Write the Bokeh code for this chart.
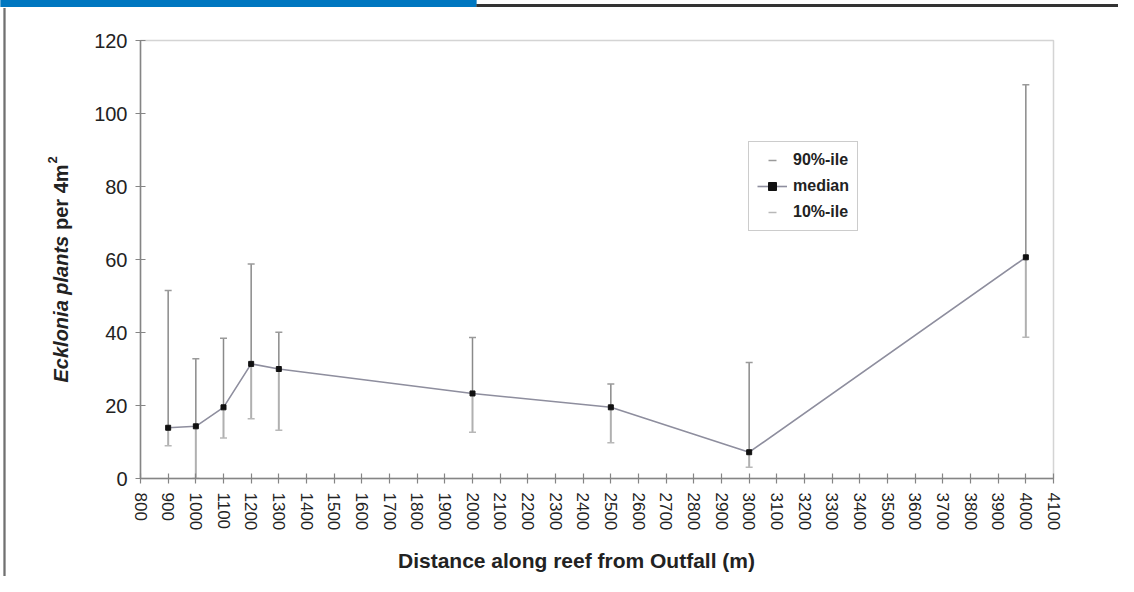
from math import pi
from bokeh.plotting import figure
from bokeh.models import (Range1d, FixedTicker, Legend, LegendItem, Label,
                          ColumnDataSource)
from bokeh.embed import file_html
from bokeh.resources import INLINE

# ---- data ----
distance = [900, 1000, 1100, 1200, 1300, 2000, 2500, 3000, 4000]
median = [13.9, 14.3, 19.5, 31.4, 30.0, 23.3, 19.5, 7.2, 60.6]
p90 = [51.5, 32.8, 38.4, 58.8, 40.1, 38.6, 25.9, 31.8, 107.9]
p10 = [9.0, 0.0, 11.1, 16.4, 13.2, 12.7, 9.8, 3.1, 38.7]

x_ticks = list(range(800, 4101, 100))
y_ticks = [0, 20, 40, 60, 80, 100, 120]

x_title = "Distance along reef from Outfall (m)"
y_title_italic = "Ecklonia plants"
y_title_plain = "per 4m"
y_title_sup = "2"
legend_labels = ["90%-ile", "median", "10%-ile"]

FONT = "Liberation Sans"

src = ColumnDataSource(dict(x=distance, med=median, hi=p90, lo=p10))

p = figure(width=1118, height=576, output_backend="svg", toolbar_location=None,
           x_range=Range1d(800, 4100), y_range=Range1d(0, 120),
           min_border_left=140, min_border_right=65,
           min_border_top=40, min_border_bottom=98,
           background_fill_color="white", border_fill_color="white")

p.grid.visible = False
p.outline_line_color = "#d4d4d4"
p.outline_line_width = 1.5

for ax in (p.xaxis[0], p.yaxis[0]):
    ax.axis_line_color = "#858585"
    ax.axis_line_width = 1.5
    ax.major_tick_line_color = "#858585"
    ax.major_tick_line_width = 1.2
    ax.major_tick_in = 5
    ax.major_tick_out = 5
    ax.minor_tick_line_color = None
    ax.major_label_text_font = FONT
    ax.major_label_text_color = "#222222"

p.xaxis.ticker = FixedTicker(ticks=x_ticks)
p.yaxis.ticker = FixedTicker(ticks=y_ticks)
p.xaxis.major_label_orientation = "vertical"
p.xaxis.major_label_text_font_size = "17px"
p.yaxis.major_label_text_font_size = "20px"
p.xaxis.major_label_standoff = 9
p.yaxis.major_label_standoff = 8

# whiskers
r_up = p.segment(x0="x", y0="med", x1="x", y1="hi", source=src,
                 line_color="#8a8a8a", line_width=1.5)
r_lo = p.segment(x0="x", y0="lo", x1="x", y1="med", source=src,
                 line_color="#b0b0b0", line_width=2)
r_upcap = p.scatter(x="x", y="hi", source=src, marker="dash", size=7,
                    line_color="#9a9a9a", line_width=1.5)
r_locap = p.scatter(x="x", y="lo", source=src, marker="dash", size=7,
                    line_color="#b8b8b8", line_width=1.5)

# median
r_line = p.line(x="x", y="med", source=src, line_color="#8e8e9e", line_width=1.6)
r_sq = p.scatter(x="x", y="med", source=src, marker="square", size=5,
                 fill_color="#111111", line_color="#111111")

legend = Legend(items=[
    LegendItem(label=legend_labels[0], renderers=[r_upcap]),
    LegendItem(label=legend_labels[1], renderers=[r_line, r_sq]),
    LegendItem(label=legend_labels[2], renderers=[r_locap]),
], location=(608, 247))
legend.label_text_font = FONT
legend.label_text_font_size = "16px"
legend.label_text_font_style = "bold"
legend.label_text_color = "#222222"
legend.border_line_color = "#9a9a9a"
legend.border_line_width = 1.5
legend.background_fill_color = "white"
legend.background_fill_alpha = 1
legend.padding = 8
legend.spacing = 6
legend.glyph_width = 30
legend.glyph_height = 20
legend.label_height = 20
legend.label_standoff = 6
legend.margin = 0
p.add_layout(legend, "center")

# axis titles, placed in side panels so that they are not clipped to the frame
p.add_layout(Label(x=576, y=560, x_units="canvas", y_units="canvas",
                   text=x_title, text_font=FONT,
                   text_font_size="21px", text_font_style="bold",
                   text_color="#222222", text_align="center",
                   text_baseline="alphabetic"), "below")
p.add_layout(Label(x=60, y=382, x_units="canvas", y_units="canvas",
                   text=y_title_italic, angle=pi / 2,
                   text_font=FONT, text_font_size="20px",
                   text_font_style="bold italic", text_color="#222222",
                   text_align="left", text_baseline="alphabetic"), "left")
p.add_layout(Label(x=60, y=229.5, x_units="canvas", y_units="canvas",
                   text=y_title_plain, angle=pi / 2,
                   text_font=FONT, text_font_size="20px",
                   text_font_style="bold", text_color="#222222",
                   text_align="left", text_baseline="alphabetic"), "left")
p.add_layout(Label(x=52, y=163, x_units="canvas", y_units="canvas",
                   text=y_title_sup, angle=pi / 2,
                   text_font=FONT, text_font_size="13px",
                   text_font_style="bold", text_color="#222222",
                   text_align="left", text_baseline="alphabetic"), "left")

# page decorations (blue header bar, rule, left border) as padded empty labels
def deco(cx, cy, half_w, half_h, color, side):
    p.add_layout(Label(x=cx, y=cy, x_units="canvas", y_units="canvas", text=" ",
                       text_font_size="1px", text_align="center",
                       text_baseline="middle",
                       padding=dict(left=half_w, right=half_w,
                                    top=half_h, bottom=half_h),
                       background_fill_color=color, background_fill_alpha=1),
                 side)

deco(238, 3, 238, 3, "#0077c0", "above")
deco(797, 5, 321, 1, "#333333", "above")
deco(4, 300, 1, 292, "#707070", "left")

open("out.html", "w").write(file_html(p, INLINE))
